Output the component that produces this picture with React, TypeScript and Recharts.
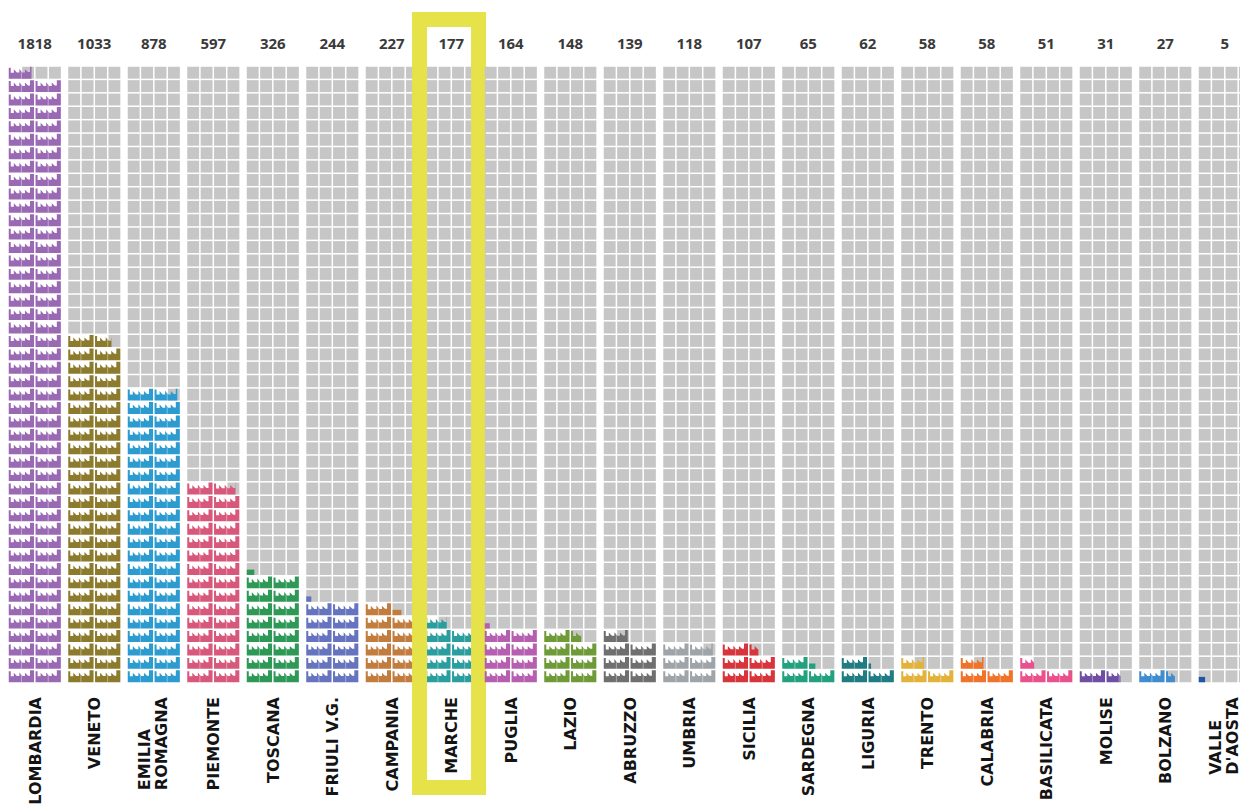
import { BarChart, Bar, XAxis, YAxis } from 'recharts'

// regions, sorted by count (one factory icon = 20 units, two icons per row)
const regions = [
  'LOMBARDIA', 'VENETO', 'EMILIA\nROMAGNA', 'PIEMONTE', 'TOSCANA', 'FRIULI V.G.', 'CAMPANIA',
  'MARCHE', 'PUGLIA', 'LAZIO', 'ABRUZZO', 'UMBRIA', 'SICILIA', 'SARDEGNA', 'LIGURIA',
  'TRENTO', 'CALABRIA', 'BASILICATA', 'MOLISE', 'BOLZANO', "VALLE\nD'AOSTA",
]
const totals = [1818, 1033, 878, 597, 326, 244, 227, 177, 164, 148, 139, 118, 107, 65, 62, 58, 58, 51, 31, 27, 5]
const colors = [
  '#9a69b4', '#8c7b2c', '#2b9bd0', '#d8587c', '#2e9956', '#6673bf', '#c27c3e',
  '#2a9d9f', '#b65eb0', '#6f9a38', '#6f6f6f', '#9fa4a8', '#d8343c', '#22a17f', '#1f7c82',
  '#e3b23a', '#f0732a', '#e9508c', '#6e4fa4', '#3f8ccf', '#1f55a8',
]
const highlighted = 'MARCHE'

const ROWS = 46
const UNITS_PER_ROW = 40
const data = regions.map((name, i) => ({ name, total: totals[i] }))

const GAP = 1.5
const GREY = '#c6c6c6'
const YELLOW = '#e5e24a'

// roof profile of one factory icon: [x fraction, height fraction]
const roof: [number, number][] = [
  [0, 0.92], [0.08, 0.92], [0.08, 0.5], [0.2, 0.5], [0.2, 0.8], [0.32, 0.52], [0.42, 0.52],
  [0.42, 0.82], [0.54, 0.52], [0.64, 0.52], [0.64, 0.8], [0.76, 0.55], [0.84, 0.55], [0.84, 1], [1, 1],
]

function iconPath(x: number, y: number, w: number, h: number, f: number) {
  const base = y + h
  if (f < 0.35) {
    const top = base - h * 0.45
    return `M${x},${base}L${x},${top}L${x + f * w},${top}L${x + f * w},${base}Z`
  }
  const pts: [number, number][] = []
  for (let i = 0; i < roof.length; i++) {
    const [px, ph] = roof[i]
    if (px <= f) pts.push([px, ph])
    else {
      const [qx, qh] = roof[i - 1]
      if (qx < f) pts.push([f, qh + ((ph - qh) * (f - qx)) / (px - qx)])
      break
    }
  }
  let d = `M${x},${base}`
  pts.forEach(([px, ph]) => {
    d += `L${x + px * w},${base - ph * h}`
  })
  d += `L${x + pts[pts.length - 1][0] * w},${base}Z`
  return d
}

function Factories(props: any) {
  const { x, y, width, height, background, index, payload } = props
  const bg = background ?? { x, y: 66, width, height: 617 }
  const ph = bg.height / ROWS
  const pw = width / 4
  const color = colors[index]
  const bottom = bg.y + bg.height
  const icons = (height / ph) * 2
  const fullCells = Math.floor(icons * 2 + 1e-6)
  const out: any[] = []

  for (let k = 0; k < ROWS * 4; k++) {
    if (k < fullCells) continue
    const row = Math.floor(k / 4)
    const col = k % 4
    out.push(
      <rect key={'g' + k} x={x + col * pw + GAP / 2} y={bottom - (row + 1) * ph + GAP / 2}
        width={pw - GAP} height={ph - GAP} fill={GREY} />
    )
  }

  const n = Math.ceil(icons - 1e-6)
  for (let k = 0; k < n; k++) {
    const row = Math.floor(k / 2)
    const slot = k % 2
    const f = Math.min(1, icons - k)
    const ix = x + slot * 2 * pw + GAP / 2
    const iy = bottom - (row + 1) * ph + GAP / 2
    const w = 2 * pw - GAP
    const h = ph - GAP
    out.push(<path key={'i' + k} d={iconPath(ix, iy, w, h, f)} fill={color} />)
    if (f > 0.55) {
      out.push(
        <line key={'l' + k} x1={ix + w / 2} x2={ix + w / 2} y1={iy} y2={iy + h}
          stroke="#fff" strokeOpacity={0.4} strokeWidth={1} />
      )
    }
  }

  if (payload?.name === highlighted) {
    const cx = x + width / 2
    out.push(
      <rect key="hl" x={cx - 31.75} y={19.5} width={59} height={768}
        fill="none" stroke={YELLOW} strokeWidth={15} />
    )
  }
  return <g>{out}</g>
}

const labelFont = 'bold 16px "DejaVu Sans"'
let ctx: CanvasRenderingContext2D | null = null
function textWidth(t: string) {
  if (!ctx) ctx = document.createElement('canvas').getContext('2d')
  if (!ctx) return t.length * 11
  ctx.font = labelFont
  return ctx.measureText(t).width
}

function RegionTick({ x, y, payload }: any) {
  const lines = String(payload.value).split('\n')
  const top = y + 14
  const style = { fontFamily: '"DejaVu Sans"', fontWeight: 700, fontSize: 16, fill: '#141414' }
  if (lines.length === 1) {
    return (
      <text transform={`translate(${x + 5.8},${top}) rotate(-90)`} textAnchor="end" style={style}>
        {lines[0]}
      </text>
    )
  }
  const longest = Math.max(...lines.map(textWidth))
  const shifts = [-4, 13]
  return (
    <g>
      {lines.map((l, i) => (
        <text key={i} transform={`translate(${x + shifts[i]},${top + longest}) rotate(-90)`}
          textAnchor="start" style={style}>
          {l}
        </text>
      ))}
    </g>
  )
}

function TotalTick({ x, y, payload }: any) {
  const i = regions.indexOf(payload.value)
  return (
    <text x={x} y={y - 17.5} textAnchor="middle"
      style={{ fontFamily: '"Open Sans"', fontWeight: 700, fontSize: 15, fill: '#3a3a3a' }}>
      {totals[i]}
    </text>
  )
}

export default function App() {
  return (
    <div style={{ position: 'absolute', left: 0, top: 0, width: 1240, height: 804, overflow: 'hidden', background: '#fff' }}>
      <BarChart width={1255} height={804} data={data} barSize={53.6}
        margin={{ top: 0, right: 0.5, bottom: 0, left: 5 }}>
        <XAxis dataKey="name" interval={0} axisLine={false} tickLine={false} tickSize={0} tickMargin={0}
          height={121} tick={(p: any) => <RegionTick {...p} />} />
        <XAxis xAxisId="top" orientation="top" dataKey="name" interval={0} axisLine={false} tickLine={false}
          tickSize={0} tickMargin={0} height={66} tick={(p: any) => <TotalTick {...p} />} />
        <YAxis hide domain={[0, ROWS * UNITS_PER_ROW]} />
        <Bar dataKey="total" isAnimationActive={false} shape={(p: any) => <Factories {...p} />} />
      </BarChart>
    </div>
  )
}
